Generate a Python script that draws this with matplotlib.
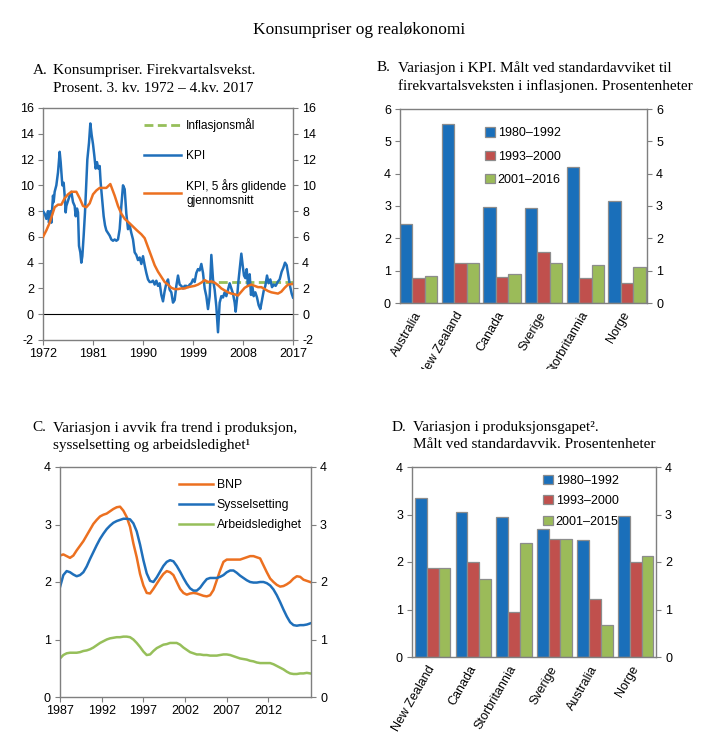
import numpy as np
import matplotlib
matplotlib.use("Agg")
import matplotlib.pyplot as plt
from matplotlib.transforms import Bbox, TransformedBbox

plt.rcParams['font.family'] = ['Liberation Sans', 'DejaVu Sans']
plt.rcParams['font.size'] = 8.5
plt.rcParams['axes.unicode_minus'] = False

BLUE = '#1f6fba'
ORANGE = '#ec7020'
GREEN = '#96bf5a'
BAR_BLUE = '#1a6fba'
BAR_RED = '#c0504d'
BAR_GREEN = '#9bbb59'
FRAME = '#7f7f7f'
SERIF = ['Liberation Serif', 'DejaVu Serif']

# --- Panel A: KPI, firekvartalsvekst (prosent) ---
kpi_year = [1972.00, 1972.30, 1972.60, 1972.90, 1973.08, 1973.32, 1973.50, 1973.68, 1973.80, 1973.92,
            1974.10, 1974.40, 1974.70, 1975.00, 1975.18, 1975.48, 1975.72, 1975.90, 1976.08, 1976.20,
            1976.50, 1976.80, 1977.10, 1977.40, 1977.70, 1977.88, 1978.12, 1978.30, 1978.48, 1978.72,
            1978.90, 1979.08, 1979.32, 1979.56, 1979.80, 1979.98, 1980.28, 1980.52, 1980.76, 1981.00,
            1981.24, 1981.48, 1981.72, 1981.96, 1982.20, 1982.38, 1982.68, 1982.92, 1983.16, 1983.40,
            1983.70, 1984.00, 1984.30, 1984.60, 1984.90, 1985.20, 1985.50, 1985.80, 1986.10, 1986.40,
            1986.70, 1987.00, 1987.30, 1987.60, 1987.90, 1988.20, 1988.50, 1988.80, 1989.10, 1989.40,
            1989.70, 1990.00, 1990.30, 1990.60, 1990.90, 1991.20, 1991.50, 1991.80, 1992.10, 1992.40,
            1992.70, 1993.00, 1993.30, 1993.60, 1993.90, 1994.20, 1994.50, 1994.80, 1995.10, 1995.40,
            1995.70, 1996.00, 1996.30, 1996.60, 1996.90, 1997.20, 1997.50, 1997.80, 1998.10, 1998.40,
            1998.70, 1999.00, 1999.30, 1999.60, 1999.90, 2000.20, 2000.50, 2000.80, 2001.10, 2001.40,
            2001.70, 2002.00, 2002.30, 2002.60, 2002.90, 2003.20, 2003.50, 2003.80, 2004.10, 2004.40,
            2004.70, 2005.00, 2005.30, 2005.60, 2005.90, 2006.20, 2006.50, 2006.68, 2006.92, 2007.16,
            2007.40, 2007.70, 2007.94, 2008.18, 2008.42, 2008.66, 2008.90, 2009.20, 2009.44, 2009.68,
            2009.92, 2010.22, 2010.52, 2010.82, 2011.12, 2011.42, 2011.72, 2012.02, 2012.32, 2012.62,
            2012.92, 2013.22, 2013.52, 2013.88, 2014.24, 2014.60, 2014.96, 2015.26, 2015.56, 2015.86,
            2016.16, 2016.46, 2016.76, 2017.00]
kpi = [8.0, 7.8, 7.4, 8.0, 7.1, 8.0, 7.1, 8.4, 9.2, 8.7,
       9.5, 10.0, 11.0, 12.6, 11.8, 10.0, 10.2, 9.2, 7.9, 8.4,
       8.8, 9.2, 9.5, 8.7, 8.4, 7.6, 8.2, 7.9, 5.3, 4.8,
       4.0, 4.5, 6.1, 7.9, 10.2, 12.0, 13.3, 14.8, 13.9, 13.2,
       12.3, 11.3, 11.8, 11.3, 11.5, 10.2, 8.7, 7.6, 6.9, 6.5,
       6.3, 6.1, 5.8, 5.7, 5.8, 5.7, 5.8, 6.6, 8.4, 10.0,
       9.7, 7.8, 6.6, 6.9, 6.3, 5.8, 4.8, 4.6, 4.2, 4.4,
       3.9, 4.5, 3.8, 3.2, 2.7, 2.5, 2.5, 2.6, 2.3, 2.6,
       2.2, 2.4, 1.5, 1.0, 1.8, 2.4, 2.7, 1.9, 1.7, 0.9,
       1.1, 2.2, 3.0, 2.3, 2.2, 2.0, 2.2, 2.2, 2.1, 2.3,
       2.4, 2.7, 2.5, 3.2, 3.5, 3.4, 3.9, 3.2, 2.0, 1.4,
       0.4, 1.4, 4.6, 2.7, 1.9, 0.6, -1.4, 0.9, 1.4, 1.3,
       1.7, 1.4, 1.9, 2.4, 2.0, 1.6, 0.9, 0.2, 1.2, 2.5,
       3.5, 4.7, 3.8, 3.0, 2.8, 3.5, 2.2, 3.1, 1.5, 2.2,
       1.4, 1.7, 1.3, 0.7, 0.4, 1.1, 1.8, 2.2, 3.0, 2.4,
       2.7, 2.1, 2.3, 2.2, 2.5, 2.7, 3.3, 3.6, 4.0, 3.8,
       3.0, 2.2, 1.6, 1.3]
snitt_year = [1972.0, 1972.6, 1973.2, 1973.8, 1974.1, 1974.7, 1975.3, 1975.9, 1976.5, 1977.1,
              1978.0, 1978.6, 1979.2, 1979.8, 1980.4, 1981.0, 1981.6, 1982.2, 1982.8, 1983.4,
              1984.12, 1984.9, 1985.5, 1986.1, 1986.7, 1987.48, 1988.2, 1988.92, 1989.7, 1990.3,
              1990.9, 1991.5, 1992.1, 1992.7, 1993.3, 1993.9, 1994.5, 1995.1, 1995.7, 1996.3,
              1996.9, 1997.5, 1998.1, 1998.7, 1999.3, 1999.9, 2000.5, 2001.1, 2001.7, 2002.3,
              2002.9, 2003.5, 2004.1, 2004.7, 2005.3, 2005.9, 2006.5, 2007.1, 2007.7, 2008.3,
              2008.9, 2009.5, 2010.1, 2010.7, 2011.3, 2011.9, 2012.5, 2013.1, 2013.7, 2014.3,
              2014.9, 2015.5, 2016.1, 2017.0]
kpi_snitt = [6.0, 6.5, 7.1, 7.9, 8.3, 8.5, 8.5, 9.0, 9.3, 9.5,
             9.5, 9.0, 8.4, 8.3, 8.6, 9.3, 9.6, 9.8, 9.8, 9.8,
             10.1, 9.2, 8.4, 7.8, 7.4, 7.1, 6.8, 6.5, 6.2, 5.9,
             5.2, 4.5, 3.8, 3.3, 2.9, 2.5, 2.3, 2.05, 1.95, 1.95,
             2.0, 2.0, 2.1, 2.15, 2.2, 2.3, 2.45, 2.65, 2.5, 2.55,
             2.45, 2.25, 2.0, 1.85, 1.7, 1.6, 1.55, 1.45, 1.75, 2.05,
             2.2, 2.3, 2.2, 2.1, 2.1, 1.95, 1.8, 1.7, 1.65, 1.6,
             1.75, 2.05, 2.3, 2.35]
maal_year = [2001.25, 2017.0]
inflasjonsmaal = [2.5, 2.5]
a_xticks = [1972, 1981, 1990, 1999, 2008, 2017]

# --- Panel B: standardavvik KPI ---
b_land = ['Australia', 'New Zealand', 'Canada', 'Sverige', 'Storbritannia', 'Norge']
b_perioder = ['1980–1992', '1993–2000', '2001–2016']
b_1980_1992 = [2.44, 5.53, 2.98, 2.93, 4.20, 3.16]
b_1993_2000 = [0.77, 1.23, 0.81, 1.59, 0.77, 0.63]
b_2001_2016 = [0.84, 1.23, 0.89, 1.23, 1.17, 1.10]

# --- Panel C: variasjon i avvik fra trend ---
c_year = np.arange(76) * 0.4 + 1987
bnp = [2.46, 2.48, 2.45, 2.42, 2.46, 2.55, 2.63, 2.71, 2.81, 2.91,
       3.01, 3.08, 3.14, 3.17, 3.19, 3.23, 3.27, 3.30, 3.31, 3.24,
       3.13, 2.96, 2.67, 2.43, 2.14, 1.94, 1.81, 1.80, 1.88, 1.97,
       2.06, 2.14, 2.19, 2.17, 2.12, 2.00, 1.88, 1.81, 1.78, 1.80,
       1.81, 1.80, 1.78, 1.76, 1.75, 1.77, 1.86, 2.03, 2.20, 2.35,
       2.39, 2.39, 2.39, 2.39, 2.39, 2.41, 2.43, 2.45, 2.45, 2.43,
       2.41, 2.29, 2.17, 2.06, 2.00, 1.95, 1.92, 1.93, 1.96, 2.00,
       2.06, 2.10, 2.09, 2.04, 2.02, 2.00]
sysselsetting = [1.91, 2.12, 2.19, 2.17, 2.13, 2.10, 2.12, 2.17, 2.27, 2.40,
                 2.52, 2.64, 2.75, 2.84, 2.92, 2.98, 3.03, 3.06, 3.08, 3.10,
                 3.10, 3.09, 3.02, 2.88, 2.65, 2.38, 2.15, 2.02, 2.00, 2.08,
                 2.18, 2.28, 2.35, 2.38, 2.36, 2.28, 2.18, 2.07, 1.97, 1.89,
                 1.85, 1.85, 1.90, 1.98, 2.05, 2.07, 2.07, 2.07, 2.09, 2.12,
                 2.17, 2.20, 2.20, 2.16, 2.11, 2.07, 2.03, 2.00, 1.99, 1.99,
                 2.00, 2.00, 1.98, 1.94, 1.87, 1.77, 1.65, 1.52, 1.40, 1.30,
                 1.25, 1.24, 1.25, 1.25, 1.26, 1.28]
arbeidsledighet = [0.67, 0.73, 0.76, 0.77, 0.77, 0.77, 0.78, 0.80, 0.81, 0.83,
                   0.86, 0.90, 0.94, 0.97, 1.00, 1.02, 1.03, 1.04, 1.04, 1.05,
                   1.05, 1.04, 1.00, 0.94, 0.87, 0.79, 0.73, 0.74, 0.80, 0.85,
                   0.88, 0.91, 0.92, 0.94, 0.94, 0.94, 0.91, 0.86, 0.82, 0.78,
                   0.76, 0.74, 0.74, 0.73, 0.73, 0.72, 0.72, 0.72, 0.73, 0.74,
                   0.74, 0.73, 0.71, 0.69, 0.67, 0.66, 0.65, 0.63, 0.62, 0.60,
                   0.59, 0.59, 0.59, 0.59, 0.57, 0.54, 0.51, 0.48, 0.44, 0.41,
                   0.40, 0.40, 0.41, 0.41, 0.42, 0.41]
c_xticks = [1987, 1992, 1997, 2002, 2007, 2012]

# --- Panel D: standardavvik produksjonsgap ---
d_land = ['New Zealand', 'Canada', 'Storbritannia', 'Sverige', 'Australia', 'Norge']
d_perioder = ['1980–1992', '1993–2000', '2001–2015']
d_1980_1992 = [3.35, 3.06, 2.94, 2.70, 2.46, 2.96]
d_1993_2000 = [1.87, 2.01, 0.95, 2.48, 1.23, 2.01]
d_2001_2015 = [1.87, 1.65, 2.39, 2.48, 0.67, 2.12]


def style_axes(ax):
    for sp in ax.spines.values():
        sp.set_color(FRAME)
        sp.set_linewidth(1.0)
    ax.tick_params(axis='y', which='both', direction='out', length=3.5, width=0.8,
                   color=FRAME, left=True, right=True, labelleft=True, labelright=True, pad=3,
                   labelsize=9)
    ax.tick_params(axis='x', direction='out', length=3.5, width=0.8, color=FRAME, pad=2,
                   labelsize=9)


def bar_panel(ax, land, series, perioder, width, xlim, ylim, yticks, leg_anchor, leg_spacing):
    x = np.arange(len(land))
    for off, vals, col, lab in zip((-width, 0, width), series,
                                   (BAR_BLUE, BAR_RED, BAR_GREEN), perioder):
        ax.bar(x + off, vals, width, color=col, edgecolor='#8c8c8c', linewidth=0.9, label=lab)
    ax.set_xlim(*xlim)
    ax.set_ylim(*ylim)
    ax.set_yticks(yticks)
    style_axes(ax)
    ax.set_xticks(x)
    ax.set_xticklabels(land, rotation=60, ha='right', va='center', rotation_mode='anchor')
    ax.tick_params(axis='x', length=0, pad=7)
    ax.legend(loc='upper left', bbox_to_anchor=leg_anchor, frameon=False, fontsize=9,
              handlelength=0.75, handleheight=0.75, handletextpad=0.25,
              labelspacing=leg_spacing, borderpad=0, borderaxespad=0)


fig = plt.figure(figsize=(7.19, 7.49), dpi=100)
W, H = 719, 749


def add_axes(left, top, right, bottom):
    return fig.add_axes([left / W, 1 - bottom / H, (right - left) / W, (bottom - top) / H])


fig.text(0.5, 1 - 30 / H, 'Konsumpriser og realøkonomi', ha='center', va='center',
         fontsize=12.5, family=SERIF)


def panel_title(x_letter, x_text, y_top, letter, text):
    fig.text(x_letter / W, 1 - y_top / H, letter, ha='left', va='top', fontsize=11, family=SERIF)
    fig.text(x_text / W, 1 - y_top / H, text, ha='left', va='top', fontsize=11,
             family=SERIF, linespacing=1.45)


panel_title(33, 53, 64, 'A.', 'Konsumpriser. Firekvartalsvekst.\nProsent. 3. kv. 1972 – 4.kv. 2017')
panel_title(377, 398, 61, 'B.', 'Variasjon i KPI. Målt ved standardavviket til\n'
            'firekvartalsveksten i inflasjonen. Prosentenheter')
panel_title(32, 53, 421, 'C.', 'Variasjon i avvik fra trend i produksjon,\n'
            'sysselsetting og arbeidsledighet¹')
panel_title(392, 413, 421, 'D.', 'Variasjon i produksjonsgapet².\n'
            'Målt ved standardavvik. Prosentenheter')

# Panel A
axA = add_axes(43, 108, 293, 340)
axA.axhline(0, color='black', linewidth=0.8, zorder=1)
axA.plot(maal_year, inflasjonsmaal, color=GREEN, linewidth=2, linestyle=(0, (3.2, 1.6)),
         label='Inflasjonsmål', zorder=2)
axA.plot(kpi_year, kpi, color=BLUE, linewidth=1.8, label='KPI', zorder=3)
axA.plot(snitt_year, kpi_snitt, color=ORANGE, linewidth=1.8,
         label='KPI, 5 års glidende\ngjennomsnitt', zorder=4)
axA.set_xlim(1972, 2017)
axA.set_ylim(-2, 16)
axA.set_yticks(range(-2, 17, 2))
axA.set_xticks(a_xticks)
style_axes(axA)
axA.legend(loc='upper left', bbox_to_anchor=(0.405, 0.955), frameon=False, fontsize=8.6,
           handlelength=3.1, handletextpad=0.4, labelspacing=1.45, borderpad=0, borderaxespad=0)

# Panel B
axB = add_axes(400, 109, 647, 303)
bar_panel(axB, b_land, (b_1980_1992, b_1993_2000, b_2001_2016), b_perioder, 0.3,
          (-0.45, 5.48), (0, 6), range(0, 7), (0.345, 0.905), 0.9)
clip = TransformedBbox(Bbox([[0, 1 - 369 / H], [1, 1]]), fig.transFigure)
for lbl in axB.get_xticklabels():
    lbl.set_clip_on(True)
    lbl.set_clip_box(clip)

# Panel C
axC = add_axes(60, 467, 311, 697)
axC.plot(c_year, bnp, color=ORANGE, linewidth=1.8, label='BNP')
axC.plot(c_year, sysselsetting, color=BLUE, linewidth=1.8, label='Sysselsetting')
axC.plot(c_year, arbeidsledighet, color=GREEN, linewidth=1.8, label='Arbeidsledighet')
axC.set_xlim(1987, 2017.1)
axC.set_ylim(0, 4)
axC.set_yticks(range(0, 5))
axC.set_xticks(c_xticks)
style_axes(axC)
axC.legend(loc='upper left', bbox_to_anchor=(0.475, 0.948), frameon=False, fontsize=8.8,
           handlelength=2.8, handletextpad=0.25, labelspacing=0.65, borderpad=0, borderaxespad=0)

# Panel D
axD = add_axes(412, 467, 656, 657)
bar_panel(axD, d_land, (d_1980_1992, d_1993_2000, d_2001_2015), d_perioder, 0.29,
          (-0.51, 5.5), (0, 4), range(0, 5), (0.538, 0.96), 0.68)

fig.savefig('out.png', dpi=100)
